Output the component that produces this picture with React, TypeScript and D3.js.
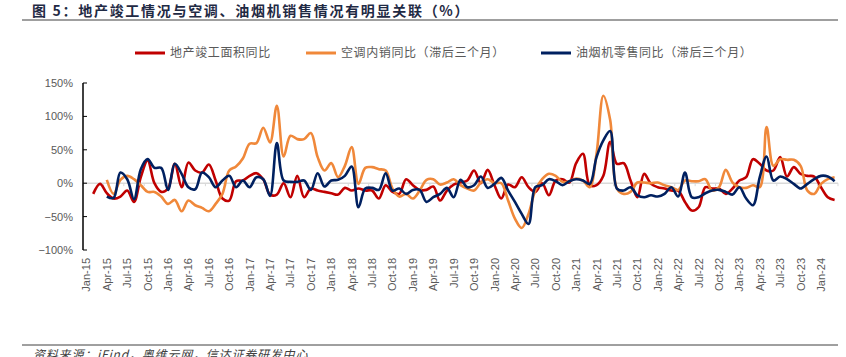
import React from "react";
import * as d3 from "d3";

const monthNames = ["Jan","Feb","Mar","Apr","May","Jun","Jul","Aug","Sep","Oct","Nov","Dec"];
const months: string[] = [];
for (let i = 0; i < 111; i++) {
  months.push(`${monthNames[i % 12]}-${15 + Math.floor(i / 12)}`);
}
const yTicks = [-100, -50, 0, 50, 100, 150];

const completion: (number | null)[] = [
  null, -16, -1, -15, -23, -20, -11, -28, 9, 34,
  0, -13, -8, 29, -6, 31, 19, 16, 28, 4,
  -23, -26, 3, 4, 11, 15, 6, -17, -17, 0,
  -21, 11, -21, -8, -11, -13, -15, -17, -7, -11,
  -8, -11, -11, -23, -3, -13, -16, 6, -3, -10,
  -10, -5, -26, -11, -2, 1, 4, 19, 0, 20,
  -3, -23, -2, -6, 9, -6, -13, 0, -18, 4,
  6, 1, 30, 44, -3, -3, 11, 62, 29, 30,
  4, -21, 14, -1, -6, -8, -11, -11, -28, -41,
  -36, -6, -8, -8, -16, -8, 4, 9, 36, 29,
  19, 19, 39, 10, 24, 14, 11, 10, -6, -21,
  -25,
];

const acSales: (number | null)[] = [
  null, null, null, 5, -16, 5, 11, 6, -3, -13,
  -13, -20, -31, -25, -42, -26, -33, -37, -42, -31,
  -16, 19, 25, 37, 59, 60, 83, 61, 116, 40,
  71, 66, 66, 75, 39, 19, 30, 9, 26, 54,
  -1, 23, 24, 21, 19, -8, -20, -16, -23, -11,
  5, 6, -2, 1, 6, -3, -8, -11, 1, 6,
  0, 0, -26, -53, -67, -46, -11, 6, 14, 11,
  2, 3, 7, 4, -6, 44, 131, 95, -8, -16,
  -13, 1, 1, 0, 1, -3, -6, -10, 4, 3,
  3, 6, -11, -6, 20, 1, -6, -7, -3, -6,
  84, 26, 36, 35, 35, 26, -11, -16, -1, 6,
  9,
];

const hoodSales: (number | null)[] = [
  null, null, null, -20, -22, 16, 6, -24, 21, 36,
  23, 23, -10, 29, 14, -6, -9, 16, 9, -6,
  4, 11, -6, 4, -6, 9, 6, -19, 60, 4,
  2, 2, 4, -10, 15, -5, 4, 5, 11, 25,
  -36, -8, -7, -10, 15, -11, -8, -16, -10, -10,
  -28, -21, -16, -7, -21, 5, -6, -3, 10, -7,
  -1, 8, -11, -28, -46, -61, -6, -3, 6, 3,
  -3, 3, 6, 4, -1, 39, 64, 78, -8, -11,
  -6, -18, -21, -18, -20, -16, -6, -20, 16, -21,
  -21, -15, -11, -10, -13, -17, -6, -23, -33, 9,
  40, 4, 10, 6, -1, -8, -1, 6, 11, 10,
  3,
];

const seriesNames = ["地产竣工面积同比", "空调内销同比（滞后三个月）", "油烟机零售同比（滞后三个月）"];
const seriesColors = ["#C00000", "#F0883A", "#002060"];

const W = 846;
const H = 357;
const left = 83;
const right = 838;
const top = 83;
const bottom = 250;

export default function App() {
  const x = d3.scaleBand<number>().domain(months.map((_, i) => i)).range([left, right]).padding(0);
  const cx = (i: number) => (x(i) as number) + x.bandwidth() / 2;
  const y = d3.scaleLinear().domain([-100, 150]).range([bottom, top]);

  const line = d3
    .line<number | null>()
    .defined((d) => d !== null)
    .x((_, i) => cx(i))
    .y((d) => y(d as number))
    .curve(d3.curveCatmullRom.alpha(0.5));

  const data = [completion, acSales, hoodSales];
  const legendX = [135, 306, 541];
  const cjk = "'Noto Sans CJK SC', 'Liberation Sans', sans-serif";
  const latin = "'Liberation Sans', Arial, sans-serif";

  return (
    <svg width={W} height={H} style={{ position: "absolute", left: 0, top: 0, background: "#fff" }}>
      {/* Title */}
      <text x={32} y={16} fontFamily={cjk} fontSize={14} fontWeight={700} fill="#1f2a44" letterSpacing={1.7}>
        图 5：地产竣工情况与空调、油烟机销售情况有明显关联（%）
      </text>
      <line x1={22} x2={838} y1={20} y2={20} stroke="#7f7f7f" strokeWidth={1.5} />

      {/* Legend */}
      {seriesNames.map((n, i) => (
        <g key={n}>
          <line x1={legendX[i]} x2={legendX[i] + 30} y1={53} y2={53} stroke={seriesColors[i]} strokeWidth={3} />
          <text x={legendX[i] + 35} y={57} fontFamily={cjk} fontSize={12} fill="#595959" letterSpacing={0.6}>
            {n}
          </text>
        </g>
      ))}

      {/* zero line */}
      <line x1={left} x2={right} y1={y(0)} y2={y(0)} stroke="#D9D9D9" strokeWidth={1.5} />
      {months.map((_, i) =>
        i % 3 === 0 ? (
          <line key={i} x1={x(i) as number} x2={x(i) as number} y1={y(0)} y2={y(0) + 3} stroke="#D9D9D9" strokeWidth={1} />
        ) : null
      )}
      <line x1={right} x2={right} y1={y(0)} y2={y(0) + 3} stroke="#D9D9D9" strokeWidth={1} />

      {/* Y axis */}
      <line x1={left} x2={left} y1={top} y2={bottom} stroke="#000" strokeWidth={1.5} />
      {yTicks.map((t) => (
        <g key={t}>
          <line x1={left} x2={left + 4} y1={y(t)} y2={y(t)} stroke="#000" strokeWidth={1} />
          <text x={73} y={y(t) + 4} textAnchor="end" fontFamily={latin} fontSize={11} fill="#595959">
            {t < 0 ? `−${-t}%` : `${t}%`}
          </text>
        </g>
      ))}

      {/* X labels */}
      {months.map((m, i) =>
        i % 3 === 0 ? (
          <text
            key={m}
            transform={`translate(${cx(i) + 4},258) rotate(-90)`}
            textAnchor="end"
            fontFamily={latin}
            fontSize={11}
            fill="#595959"
          >
            {m}
          </text>
        ) : null
      )}

      {/* Series */}
      {data.map((d, i) => (
        <path key={i} d={line(d) || ""} fill="none" stroke={seriesColors[i]} strokeWidth={2.6} strokeLinejoin="round" />
      ))}

      {/* Footer */}
      <line x1={22} x2={838} y1={345} y2={345} stroke="#404040" strokeWidth={1} />
      <text x={33} y={359} fontFamily={cjk} fontSize={12} fontStyle="italic" fill="#404040" letterSpacing={0.8}>
        资料来源：iFind，奥维云网，信达证券研发中心
      </text>
    </svg>
  );
}
